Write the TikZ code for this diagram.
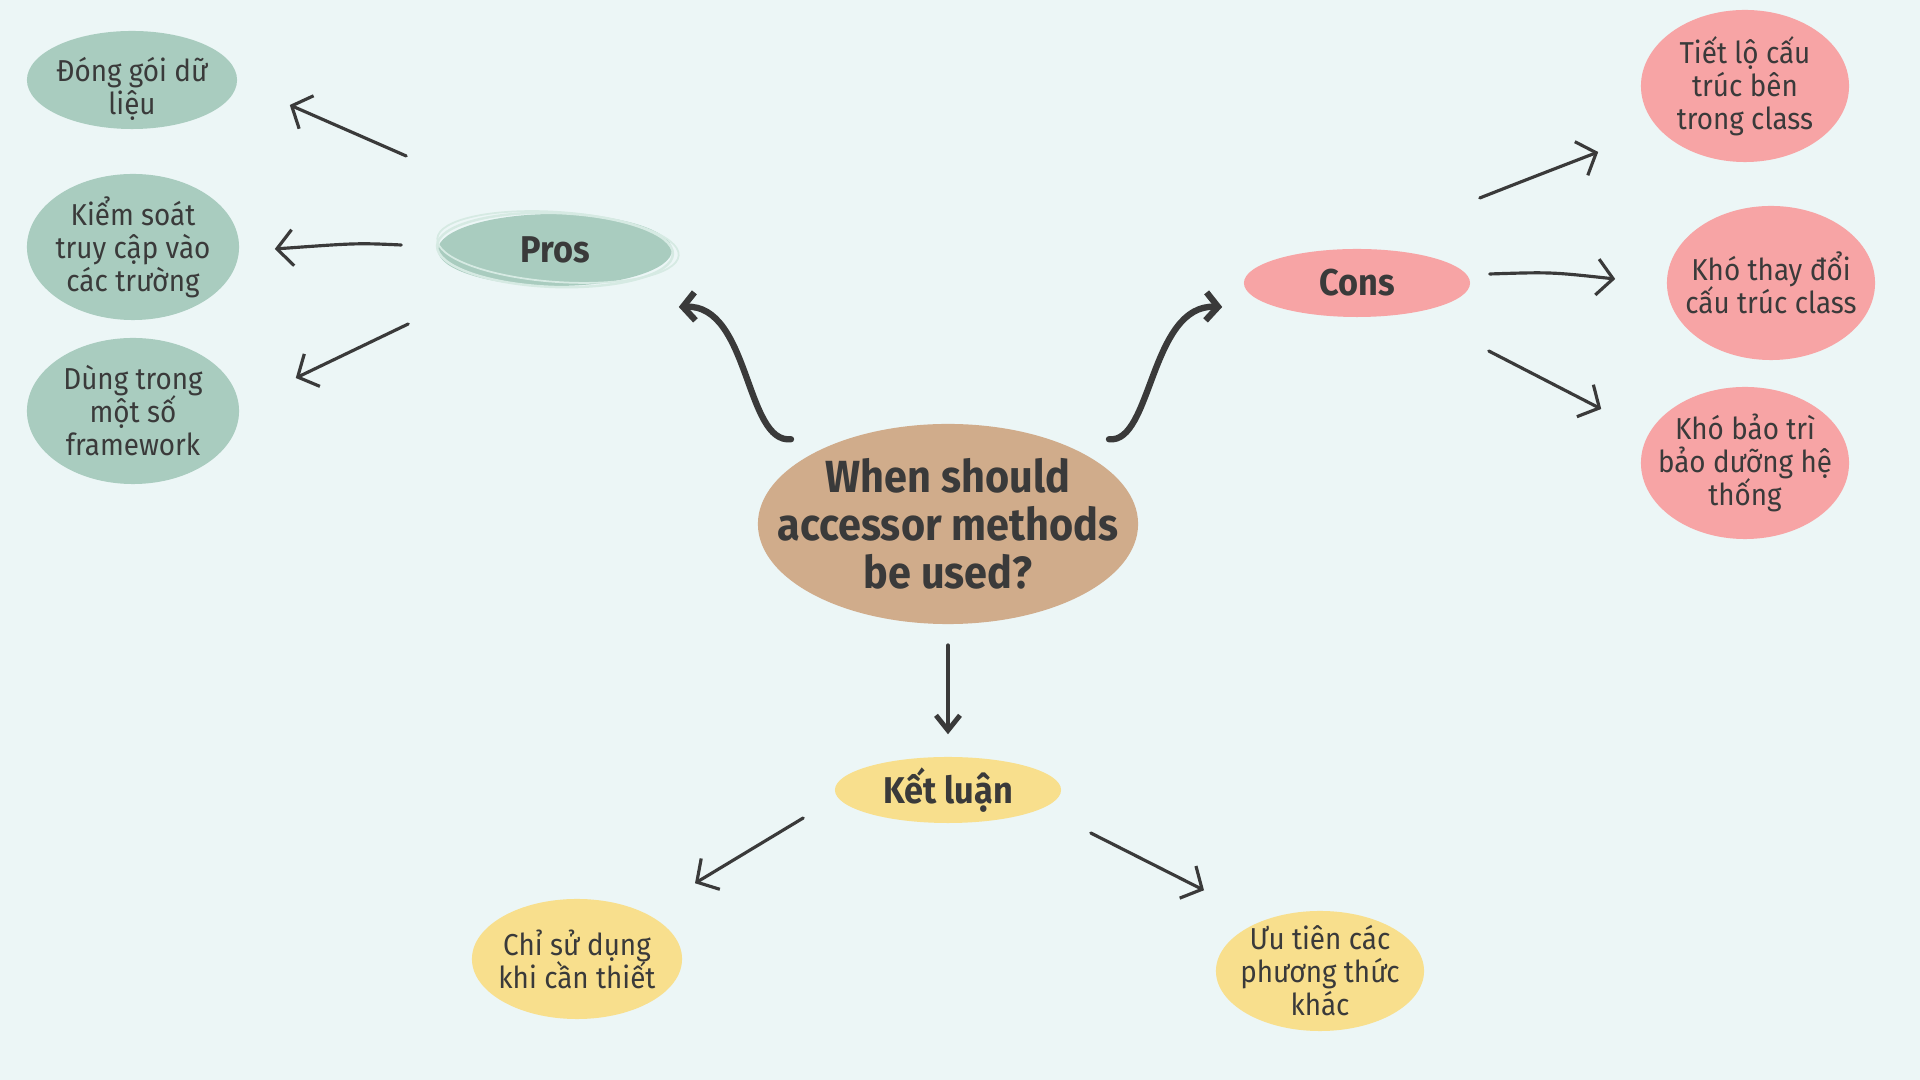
\documentclass[tikz,border=0pt]{standalone}
\usepackage{fontspec}
\setmainfont{Fira Sans}[FakeStretch=0.92]
\usetikzlibrary{arrows.meta,shapes.geometric}
\definecolor{bg}{HTML}{ECF6F6}
\definecolor{ink}{HTML}{3A3A3A}
\definecolor{sage}{HTML}{A9CCBF}
\definecolor{sageline}{HTML}{D6EAE3}
\definecolor{rose}{HTML}{F7A4A5}
\definecolor{tan}{HTML}{D0AC8B}
\definecolor{sun}{HTML}{F8DF8D}
\newcommand{\tightlines}{\lineskiplimit=-20pt\relax\lineskip=0pt\relax}
\begin{document}
\begin{tikzpicture}[x=0.01cm,y=-0.01cm,
  bubble/.style={ellipse, inner xsep=-0.6cm, inner ysep=-0.3cm, align=center, text=ink, font=\fontsize{8.6}{9.4}\selectfont\tightlines},
  head/.style={bubble, font=\fontsize{10.6}{12}\selectfont\bfseries},
  arr/.style={draw=ink, line width=0.9pt, line cap=round, -{Straight Barb[length=1.6mm,width=3.6mm]}},
  bigarr/.style={draw=ink, line width=1.8pt, line cap=round, -{Straight Barb[length=1.2mm,width=2.8mm]}},
  downarr/.style={draw=ink, line width=1.4pt, line cap=round, -{Straight Barb[length=1.5mm,width=2.4mm]}}]
\fill[bg] (0,0) rectangle (1920,1080);
\useasboundingbox (0,0) rectangle (1920,1080);

% left (pros) bubbles
\node[bubble, fill=sage, minimum width=2.10cm, minimum height=0.98cm] (dong) at (132,80) {\rule{0pt}{0.42cm}Đóng gói dữ\\liệu};
\node[bubble, fill=sage, minimum width=2.12cm, minimum height=1.46cm] (kiem) at (133,247) {Kiểm soát\\truy cập vào\\các trường};
\node[bubble, fill=sage, minimum width=2.12cm, minimum height=1.46cm] (dung) at (133,411) {Dùng trong\\một số\\framework};

% pros
\node[head, fill=sage, minimum width=2.34cm, minimum height=0.72cm] (pros) at (555,250) {Pros};
\draw[sageline, line width=0.7pt] (pros.center) ellipse [x radius=118, y radius=37, rotate=-2];
\draw[sageline, line width=0.5pt] ([shift={(3,-3)}]pros.center) ellipse [x radius=121, y radius=35, rotate=-4];

% cons
\node[head, fill=rose, minimum width=2.26cm, minimum height=0.68cm] (cons) at (1357,283) {Cons};
\node[bubble, fill=rose, minimum width=2.08cm, minimum height=1.52cm] (tiet) at (1745,86) {Tiết lộ cấu\\trúc bên\\trong class};
\node[bubble, fill=rose, minimum width=2.08cm, minimum height=1.54cm] (khothay) at (1771,283) {Khó thay đổi\\cấu trúc class};
\node[bubble, fill=rose, minimum width=2.08cm, minimum height=1.52cm] (khobao) at (1745,463) {Khó bảo trì\\bảo dưỡng hệ\\thống};

% center
\node[bubble, fill=tan, minimum width=3.80cm, minimum height=2.00cm, font=\fontsize{12.8}{13.6}\selectfont\bfseries\tightlines] (center) at (948,524) {When should\\accessor methods\\be used?};

% conclusion
\node[head, fill=sun, minimum width=2.26cm, minimum height=0.66cm] (kl) at (948,790) {Kết luận};
\node[bubble, fill=sun, minimum width=2.10cm, minimum height=1.20cm] (chi) at (577,959) {Chỉ sử dụng\\khi cần thiết};
\node[bubble, fill=sun, minimum width=2.08cm, minimum height=1.20cm] (uu) at (1320,971) {Ưu tiên các\\phương thức\\khác};

% pros arrows
\draw[arr] ([shift={(-31,-94)}]pros.west) -- ([shift={(52,25)}]dong.east);
\draw[arr] ([shift={(-36,-5)}]pros.west) .. controls ([shift={(-80,-7)}]pros.west) .. ([shift={(35,2)}]kiem.east);
\draw[arr] ([shift={(-29,74)}]pros.west) -- ([shift={(56,-33)}]dung.east);

% cons arrows
\draw[arr] ([shift={(9,-85)}]cons.east) .. controls ([shift={(60,-105)}]cons.east) .. ([shift={(-42,66)}]tiet.west);
\draw[arr] ([shift={(19,-9)}]cons.east) .. controls ([shift={(80,-11)}]cons.east) .. ([shift={(-51,-4)}]khothay.west);
\draw[arr] ([shift={(18,68)}]cons.east) -- ([shift={(-39,-54)}]khobao.west);

% center curved arrows
\draw[bigarr] ([shift={(-157,16)}]center.north) .. controls ([shift={(-203,21)}]center.north) and ([shift={(-198,-119)}]center.north) .. ([shift={(6,57)}]pros.east);
\draw[bigarr] ([shift={(161,16)}]center.north) .. controls ([shift={(204,21)}]center.north) and ([shift={(202,-119)}]center.north) .. ([shift={(-21,24)}]cons.west);

% center to conclusion
\draw[downarr] ([shift={(0,21)}]center.south) -- ([shift={(0,-22)}]kl.north);

% conclusion arrows
\draw[arr] ([shift={(-31,28)}]kl.west) -- ([shift={(118,-15)}]chi.north);
\draw[arr] ([shift={(29,43)}]kl.east) -- ([shift={(-116,-20)}]uu.north);
\end{tikzpicture}
\end{document}
